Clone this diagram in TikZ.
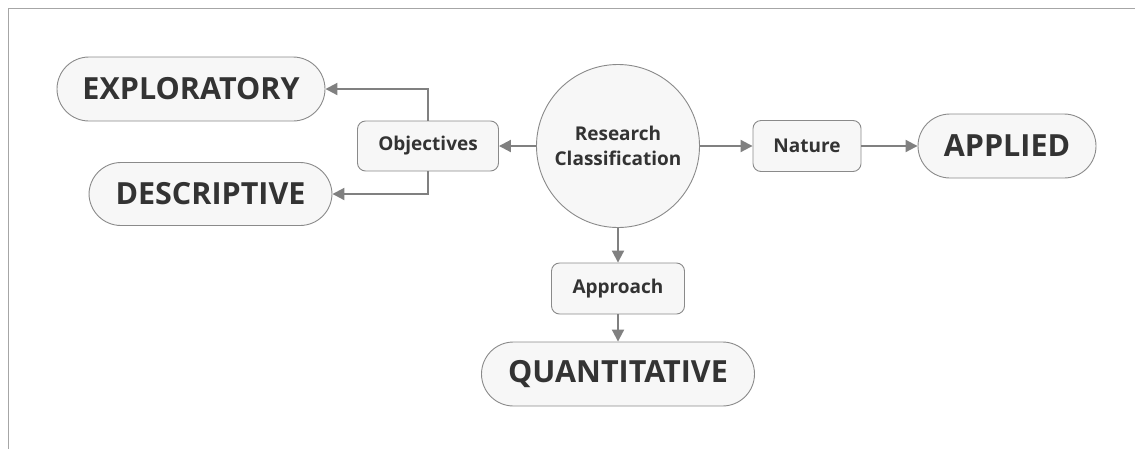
\documentclass[tikz,border=0pt]{standalone}
\usepackage{fontspec}
\setmainfont{Open Sans}
\usetikzlibrary{arrows.meta}
\definecolor{boxfill}{HTML}{F7F7F7}
\definecolor{boxline}{HTML}{8A8A8A}
\definecolor{txt}{HTML}{333333}
\definecolor{link}{HTML}{808080}
\definecolor{frame}{HTML}{A6A6A6}
\tikzset{
  big/.style={draw=boxline, fill=boxfill, line width=0.9pt, text=txt,
    font=\fontsize{30.5}{36}\selectfont\bfseries, inner sep=0pt,
    rounded corners=32pt},
  small/.style={draw=boxline, fill=boxfill, line width=0.9pt, text=txt,
    font=\fontsize{19}{24}\selectfont\bfseries, inner sep=0pt,
    rounded corners=8pt},
  hub/.style={circle, draw=boxline, fill=boxfill, line width=0.9pt, text=txt,
    font=\fontsize{19}{25}\selectfont\bfseries, inner sep=0pt,
    minimum size=163pt, align=center},
  link/.style={draw=link, line width=2pt,
    -{Triangle[length=12pt,width=12pt]}}
}
\begin{document}
\begin{tikzpicture}[x=1pt,y=-1pt]
  \useasboundingbox (0,0) rectangle (1135,448);
  \begin{scope}
    \clip (0,0) rectangle (1135,448);
    \draw[frame, line width=1.8pt] (8.5,8.5) rectangle (1200,520);
  \end{scope}

  % central topic
  \node[hub] (rc) at (618,146) {Research\\Classification};

  % first-level branches
  \node[small, minimum width=141pt, minimum height=50pt] (obj) at (428,146) {Objectives};
  \node[small, minimum width=108pt, minimum height=51pt] (nat) at (807,146) {Nature};
  \node[small, minimum width=133pt, minimum height=51pt] (app) at (618,288.5) {Approach};

  % outcomes
  \node[big, minimum width=268pt, minimum height=64pt] (expl) at (191,89) {EXPLORATORY};
  \node[big, minimum width=243pt, minimum height=63pt] (desc) at (210.5,194) {DESCRIPTIVE};
  \node[big, minimum width=178pt, minimum height=64pt] (appl) at (1007,146) {APPLIED};
  \node[big, minimum width=273pt, minimum height=64pt] (quant) at (618,374) {QUANTITATIVE};

  % connectors
  \draw[link] (rc.west) -- (obj.east);
  \draw[link] (obj.north) |- (expl.east);
  \draw[link] (obj.south) |- (desc.east);
  \draw[link] (rc.east) -- (nat.west);
  \draw[link] (nat.east) -- (appl.west);
  \draw[link] (rc.south) -- (app.north);
  \draw[link] (app.south) -- (quant.north);
\end{tikzpicture}
\end{document}
